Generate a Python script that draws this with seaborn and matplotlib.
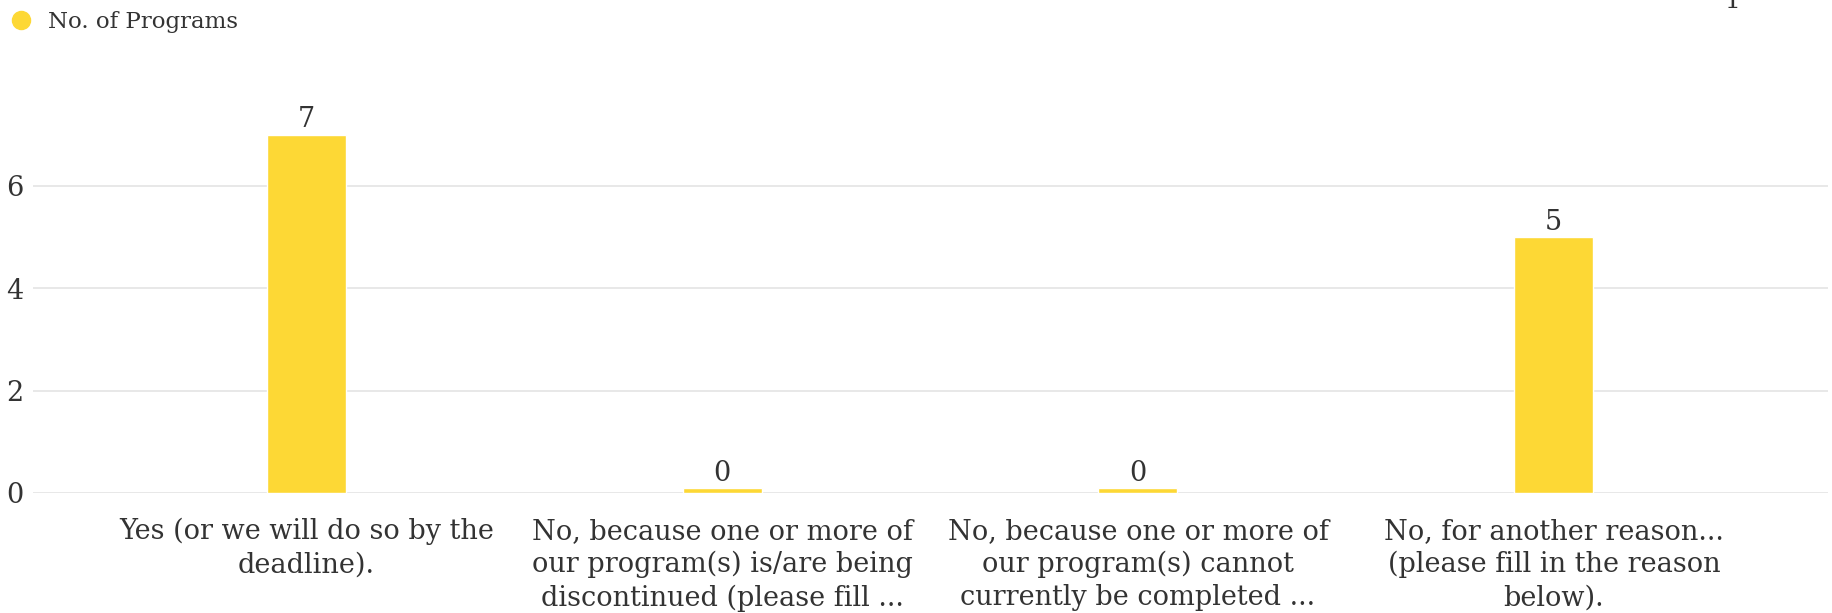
import matplotlib
matplotlib.use("Agg")
import matplotlib.pyplot as plt
from matplotlib.lines import Line2D
import numpy as np
import pandas as pd
import seaborn as sns

categories = [
    "Yes (or we will do so by the\ndeadline).",
    "No, because one or more of\nour program(s) is/are being\ndiscontinued (please fill ...",
    "No, because one or more of\nour program(s) cannot\ncurrently be completed ...",
    "No, for another reason...\n(please fill in the reason\nbelow).",
]
programs = [7, 0, 0, 5]
series_name = "No. of Programs"

bar_color = "#FDD835"
text_color = "#333333"
grid_color = "#E6E6E6"

sns.set_theme(style="white")
plt.rcParams["font.family"] = ["DejaVu Serif"]
plt.rcParams["font.size"] = 19

# zero values still get a thin sliver, like the reference
df = pd.DataFrame({"category": categories, "value": programs})
df["shown"] = np.maximum(df["value"], 0.09)

fig = plt.figure(figsize=(18.32, 6.13), dpi=100)
ax = fig.add_axes([0.018, 0.1958, 0.98, 0.6515])

sns.barplot(data=df, x="category", y="shown", color=bar_color, width=0.19,
            saturation=1, ax=ax)

ax.bar_label(ax.containers[0], labels=[str(v) for v in programs],
             padding=1, color=text_color, fontsize=19.5)

ax.set_ylim(0, 7.8)
ax.set_xlim(-0.657, 3.66)
ax.set_yticks([0, 2, 4, 6])
ax.yaxis.grid(True, color=grid_color, linewidth=1.3)
ax.set_axisbelow(True)
for s in ax.spines.values():
    s.set_visible(False)
ax.set_xlabel("")
ax.set_ylabel("")
ax.tick_params(axis="x", length=0, pad=18, colors=text_color, labelsize=19.5)
ax.tick_params(axis="y", length=0, pad=7, colors=text_color, labelsize=19.5)
for lab in ax.get_xticklabels():
    lab.set_linespacing(1.28)
    lab.set_verticalalignment("top")

handle = Line2D([], [], marker="o", linestyle="none", markersize=13,
                markerfacecolor=bar_color, markeredgecolor=bar_color)
fig.legend([handle], [series_name], loc="center left",
           bbox_to_anchor=(0.0066, 1 - 22 / 613),
           frameon=False, fontsize=16.5, labelcolor=text_color,
           handlelength=0.8, handletextpad=0.75, borderpad=0, borderaxespad=0)

# clipped page marker at top right
fig.text(1733 / 1832, 1 - 8 / 613, "1", color=text_color, fontsize=18,
         ha="center", va="baseline")

fig.savefig("out.png", dpi=100)
